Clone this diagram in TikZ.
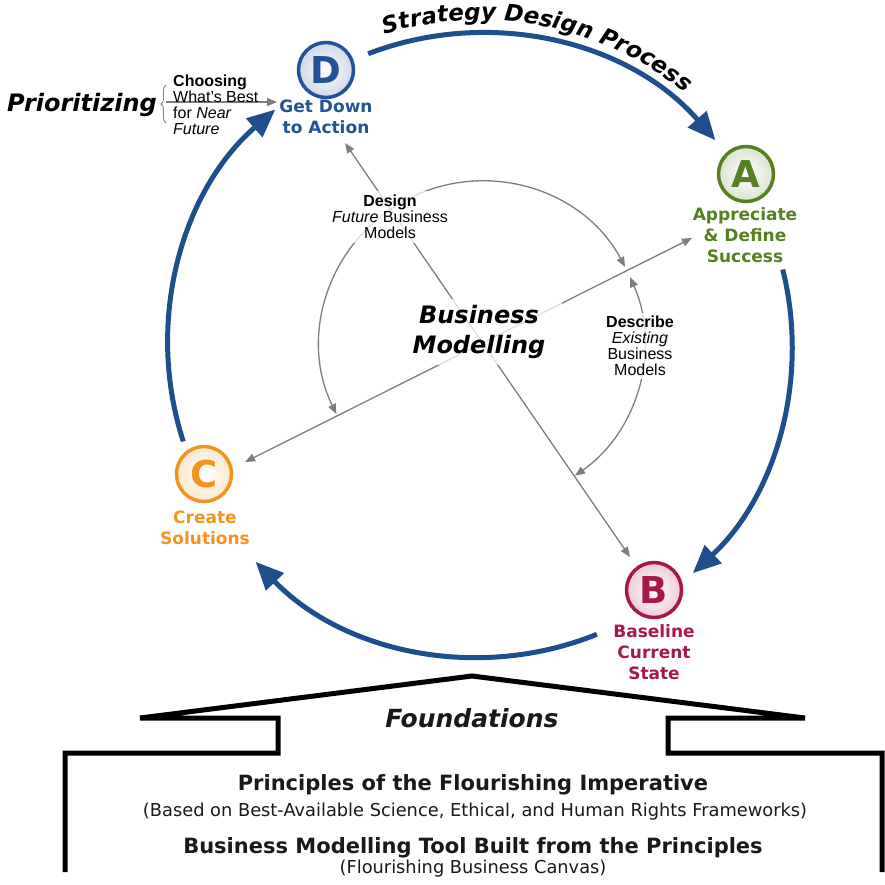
\documentclass[tikz,border=0pt]{standalone}
\usepackage{fontspec}
\setmainfont{DejaVu Sans}
\newfontfamily\arialfont{Liberation Sans}
\usetikzlibrary{arrows.meta,decorations.text,decorations.pathreplacing}

\definecolor{cycblue}{RGB}{31,78,140}
\definecolor{dblue}{RGB}{36,82,152}
\definecolor{agreen}{RGB}{86,128,34}
\definecolor{bred}{RGB}{168,24,68}
\definecolor{corange}{RGB}{243,148,30}
\definecolor{arrgray}{RGB}{125,125,125}

\tikzset{
  stepmark/.style={circle, shade, draw=#1, line width=3.5pt, minimum size=55pt,
    inner sep=0pt, inner color=white, outer color=#1!22, text=#1,
    font=\bfseries\fontsize{37}{37}\selectfont},
  steplabel/.style={align=center, inner sep=0pt, anchor=north, text=#1,
    font=\bfseries\fontsize{17}{21}\selectfont},
  cycarc/.style={cycblue, line width=5pt, -{Triangle[length=28pt,width=24pt]}},
  flow/.style={arrgray, line width=1.3pt, >={Triangle[length=10pt,width=8pt]}},
  note/.style={align=center, font=\arialfont\fontsize{16}{16}\selectfont},
  veil/.style={fill=white, fill opacity=.75, text opacity=1},
  house/.style={line width=5pt, line join=miter},
  basetext/.style={anchor=base, text=black!90},
}

\begin{document}
\begin{tikzpicture}[x=1pt,y=1pt]
  \useasboundingbox (0,0) rectangle (885,-884);
  \coordinate (ctr) at (480,-345);
  \coordinate (mid) at (482,-343);

  % business modelling cross and arcs
  \coordinate (dtip) at (345,-143);
  \coordinate (btip) at (630,-557);
  \coordinate (ctip) at (245,-462);
  \coordinate (atip) at (692,-238);
  \draw[flow,<->] (dtip) -- (btip);
  \draw[flow,<->] (ctip) -- (atip);
  \draw[flow,<->] ([shift={(206:162)}]mid) arc[start angle=206, end angle=28, radius=162];
  \draw[flow,<->] ([shift={(24:162)}]mid) arc[start angle=24, end angle=-55, radius=162];

  \node[note, veil, minimum width=140pt, minimum height=52pt] (design) at (390,-217)
    {\textbf{Design}\\\textit{Future} Business\\Models};
  \node[note, veil, minimum width=116pt, minimum height=66pt] (describe) at (640,-346)
    {\textbf{Describe}\\\textit{Existing}\\Business\\Models};
  \node[veil, align=center, minimum width=166pt, minimum height=66pt,
    font=\bfseries\itshape\fontsize{24}{30}\selectfont] (bm) at (479,-332)
    {Business\\Modelling};

  % the four steps
  \node[stepmark=dblue] (d) at (326,-70) {D};
  \node[steplabel=dblue] (dlab) at (326,-99.5) {Get Down\\to Action};
  \node[stepmark=agreen] (a) at (746,-174) {A};
  \node[steplabel=agreen] (alab) at (745,-207.5) {Appreciate\\\& Define\\Success};
  \node[stepmark=bred] (b) at (654,-590) {B};
  \node[steplabel=bred] (blab) at (654,-624.5) {Baseline\\Current\\State};
  \node[stepmark=corange] (c) at (204,-474) {C};
  \node[steplabel=corange] (clab) at (205,-510.5) {Create\\Solutions};

  % strategy design cycle
  \draw[cycarc] ([shift={(111:312)}]ctr) arc[start angle=111, end angle=41, radius=312];
  \draw[cycarc] ([shift={(14:312)}]ctr) arc[start angle=14, end angle=-47, radius=312];
  \draw[cycarc] ([shift={(-68:312)}]ctr) arc[start angle=-68, end angle=-136, radius=312];
  \draw[cycarc] ([shift={(198:312)}]ctr) arc[start angle=198, end angle=131, radius=312];
  \path[decorate, decoration={text along path, text align=center,
    text={|\bfseries\itshape\fontsize{23}{23}\selectfont|Strategy Design Process}}]
    ([shift={(109:325)}]ctr) arc[start angle=109, end angle=49, radius=325];

  % prioritizing
  \node[anchor=base, font=\bfseries\itshape\fontsize{24}{24}\selectfont] (prio) at (82,-111) {Prioritizing};
  \coordinate (brlo) at (166,-123);
  \coordinate (brhi) at (166,-85);
  \draw[arrgray, line width=.8pt, decorate, decoration={brace, amplitude=5pt}] (brlo) -- (brhi);
  \coordinate (pstart) at (166,-102);
  \coordinate (pend) at (277,-102);
  \draw[flow,->] (pstart) -- (pend);
  \node[note, align=left, anchor=north west, inner sep=0pt] (choose) at (173,-75)
    {\textbf{Choosing}\\What’s Best\\for \textit{Near}\\\textit{Future}};

  % foundations
  \draw[house] (65,-872) -- (65,-753) -- (278,-753) -- (278,-718) -- (140,-718)
    -- (472,-676) -- (805,-718) -- (668,-718) -- (668,-753) -- (882,-753) -- (882,-872);
  \node[basetext, font=\bfseries\itshape\fontsize{25}{25}\selectfont] (found) at (472,-727) {Foundations};
  \node[basetext, font=\bfseries\fontsize{21}{21}\selectfont] (prin) at (473,-790)
    {Principles of the Flourishing Imperative};
  \node[basetext, font=\fontsize{17.8}{17.8}\selectfont] (prinsub) at (475,-816)
    {(Based on Best-Available Science, Ethical, and Human Rights Frameworks)};
  \node[basetext, font=\bfseries\fontsize{21}{21}\selectfont] (tool) at (473,-853)
    {Business Modelling Tool Built from the Principles};
  \node[basetext, font=\fontsize{17.8}{17.8}\selectfont] (toolsub) at (473,-873)
    {(Flourishing Business Canvas)};
\end{tikzpicture}
\end{document}
